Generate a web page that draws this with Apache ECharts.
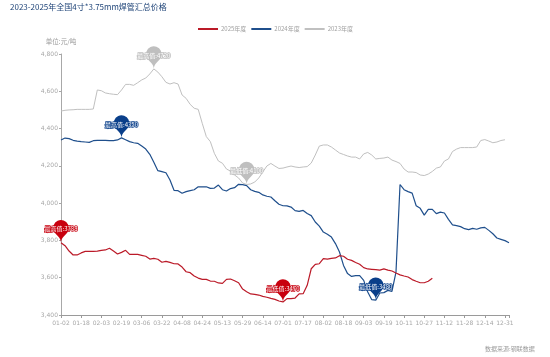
<!DOCTYPE html>
<html><head><meta charset="utf-8">
<script src="https://cdn.jsdelivr.net/npm/echarts@6/dist/echarts.min.js"></script>
<style>html,body{margin:0;padding:0;background:#fff}#c{width:550px;height:357px}</style></head>
<body><div id="c"></div>
<script>
const categories = ['01-02','01-05','01-08','01-11','01-15','01-18','01-21','01-24','01-27','01-30','02-03','02-06','02-09','02-12','02-16','02-19','02-22','02-25','02-28','03-03','03-06','03-09','03-12','03-15','03-18','03-22','03-25','03-28','04-01','04-04','04-08','04-11','04-14','04-17','04-20','04-24','04-28','05-01','05-05','05-09','05-13','05-16','05-19','05-22','05-25','05-29','06-01','06-04','06-07','06-10','06-14','06-17','06-20','06-23','06-27','07-01','07-04','07-07','07-10','07-13','07-17','07-20','07-23','07-26','07-29','08-02','08-05','08-08','08-11','08-14','08-18','08-21','08-24','08-27','08-30','09-03','09-06','09-09','09-12','09-15','09-19','09-23','09-27','10-01','10-06','10-11','10-14','10-17','10-20','10-23','10-27','10-30','11-02','11-05','11-08','11-12','11-15','11-18','11-21','11-24','11-28','12-01','12-04','12-07','12-10','12-14','12-17','12-20','12-23','12-26','12-31','01-01'];
const values2025 = [3788,3772,3743,3722,3722,3733,3741,3741,3741,3743,3747,3749,3758,3743,3727,3736,3747,3725,3725,3725,3720,3715,3700,3704,3699,3683,3688,3682,3675,3674,3657,3632,3627,3609,3598,3591,3591,3582,3581,3572,3570,3591,3593,3584,3573,3539,3525,3513,3511,3507,3500,3495,3489,3484,3475,3470,3488,3488,3491,3513,3514,3559,3648,3672,3675,3702,3700,3704,3706,3718,3715,3699,3693,3682,3672,3654,3647,3645,3643,3641,3647,3641,3636,3625,3615,3609,3604,3590,3581,3573,3573,3581,3597];
const values2024 = [4339,4349,4346,4337,4333,4330,4328,4326,4335,4337,4337,4337,4335,4335,4339,4350,4340,4330,4324,4321,4306,4290,4262,4219,4174,4169,4163,4124,4069,4067,4053,4062,4067,4072,4088,4087,4088,4079,4081,4097,4072,4065,4078,4083,4101,4099,4094,4072,4063,4058,4044,4037,4033,4013,3994,3986,3985,3979,3960,3956,3961,3944,3933,3899,3877,3845,3833,3818,3783,3738,3666,3622,3607,3611,3611,3586,3523,3482,3480,3518,3520,3532,3527,3630,4100,4072,4062,4054,3986,3972,3936,3967,3967,3944,3952,3947,3913,3883,3879,3874,3863,3858,3865,3860,3867,3870,3854,3836,3813,3806,3799,3788];
const values2023 = [4494,4498,4500,4501,4503,4503,4503,4503,4505,4607,4603,4591,4587,4584,4582,4607,4637,4637,4632,4646,4661,4671,4693,4720,4703,4678,4648,4639,4646,4639,4580,4562,4530,4509,4503,4428,4357,4330,4267,4226,4214,4183,4172,4151,4135,4108,4100,4103,4113,4135,4167,4199,4213,4199,4186,4188,4194,4199,4194,4191,4194,4196,4215,4258,4306,4312,4312,4301,4285,4269,4261,4253,4247,4247,4237,4264,4272,4258,4237,4240,4242,4247,4231,4223,4213,4183,4167,4167,4164,4151,4148,4156,4170,4188,4194,4226,4237,4277,4290,4298,4298,4298,4298,4301,4336,4341,4333,4324,4328,4336,4340];
const seriesNames = ['2025年度','2024年度','2023年度'];
const seriesColors = ['#bb1a28','#1f4f8c','#c0c0c0'];
const pinColors = ['#c8000f','#0a3f8a','#bfbfbf'];
const seriesValues = [values2025, values2024, values2023];
const tickLabels = ['3,400','3,600','3,800','4,000','4,200','4,400','4,600','4,800'];

const chart = echarts.init(document.getElementById('c'), null, {renderer:'canvas'});
const font = '"Noto Sans CJK SC","DejaVu Sans",sans-serif';
chart.setOption({
  animation:false,
  backgroundColor:'#fff',
  title:[
    {text:'2023-2025年全国4寸*3.75mm焊管汇总价格',left:5,top:-2,textStyle:{color:'#1f4478',fontSize:8,fontWeight:'normal',fontFamily:font}},
    {text:'数据来源:钢联数据',left:480,top:341,textStyle:{color:'#9a9a9a',fontSize:6,fontWeight:'normal',fontFamily:font}}
  ],
  legend:{
    left:193,top:21,itemWidth:20,itemHeight:2,itemGap:5,icon:'rect',
    data:seriesNames,
    textStyle:{color:'#a0a0a0',fontSize:6,fontFamily:font,padding:[0,0,0,-2]}
  },
  grid:{left:61,right:41,top:54,bottom:42,containLabel:false},
  xAxis:{
    type:'category',boundaryGap:false,data:categories,
    axisLine:{lineStyle:{color:'#9a9a9a',width:1}},
    axisTick:{length:3,interval:(i)=>i%5===0||i===categories.length-1,lineStyle:{color:'#9a9a9a'}},
    axisLabel:{interval:(i)=>i%5===0,color:'#a8a8a8',fontSize:6,margin:5,fontFamily:'"DejaVu Sans",sans-serif',hideOverlap:false}
  },
  yAxis:{
    type:'value',min:3400,max:4800,interval:200,
    name:'单位:元/吨',nameLocation:'end',nameGap:9,
    nameTextStyle:{color:'#9a9a9a',fontSize:6.5,fontFamily:font,align:'center',padding:[0,0,0,0]},
    axisLine:{show:true,lineStyle:{color:'#a8a8a8',width:1}},
    axisTick:{show:true,length:2,lineStyle:{color:'#a8a8a8'}},
    splitLine:{show:false},
    axisLabel:{color:'#a8a8a8',fontSize:6,margin:3,fontFamily:'"DejaVu Sans",sans-serif',
      formatter:(v)=>tickLabels[(v-3400)/200]}
  },
  series:seriesNames.map((name,k)=>({
    name,type:'line',data:seriesValues[k],showSymbol:false,symbol:'none',smooth:false,
    z:5-k,
    lineStyle:{color:seriesColors[k],width:k===2?1:1.2},
    itemStyle:{color:seriesColors[k]},
    markPoint:{
      symbol:'pin',symbolSize:26,
      itemStyle:{color:pinColors[k]},
      label:{show:true,position:'inside',formatter:'{b}:{c}',fontSize:6,color:'#fff',
        textBorderColor:pinColors[k],textBorderWidth:1.5,fontFamily:font},
      data:[{type:'max',name:'最高值'},{type:'min',name:'最低值'}]
    }
  }))
});
</script></body></html>
